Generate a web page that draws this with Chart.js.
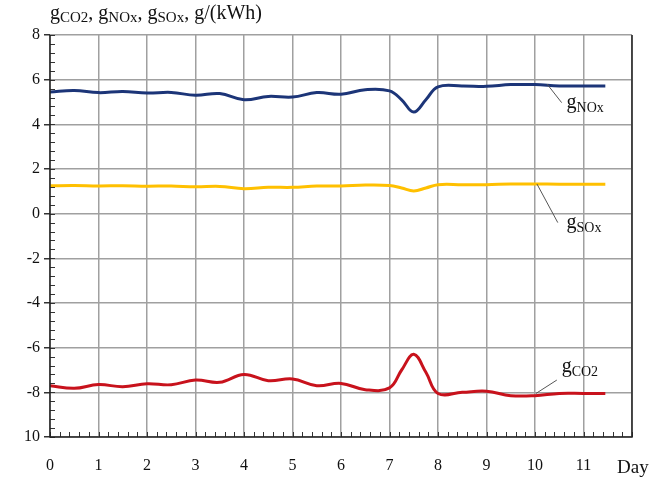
<!DOCTYPE html>
<html><head><meta charset="utf-8">
<script src="https://cdn.jsdelivr.net/npm/chart.js@4"></script>
<style>html,body{margin:0;padding:0;background:#fff}#wrap{width:659px;height:478px}</style>
</head><body><div id="wrap"><canvas id="c" width="659" height="478"></canvas></div>
<script>
const days = [0,0.5,1,1.5,2,2.5,3,3.5,4,4.5,5,5.5,6,6.5,7,7.25,7.5,7.75,8,8.5,9,9.5,10,10.5,11,11.45];
const gNOx = [5.45,5.52,5.42,5.47,5.4,5.43,5.3,5.38,5.1,5.25,5.22,5.42,5.35,5.55,5.5,5.1,4.55,5.1,5.68,5.72,5.7,5.78,5.78,5.72,5.72,5.72];
const gSOx = [1.25,1.26,1.24,1.25,1.23,1.24,1.2,1.22,1.12,1.18,1.18,1.24,1.24,1.28,1.26,1.15,1.02,1.15,1.3,1.3,1.3,1.33,1.33,1.32,1.32,1.32];
const gCO2 = [-7.7,-7.82,-7.65,-7.75,-7.62,-7.66,-7.45,-7.55,-7.2,-7.48,-7.4,-7.7,-7.6,-7.88,-7.8,-7.0,-6.3,-7.1,-8.05,-8.0,-7.95,-8.15,-8.15,-8.05,-8.05,-8.05];
const xTicks = [0,1,2,3,4,5,6,7,8,9,10,11];
const yTicks = [8,6,4,2,0,-2,-4,-6,-8,-10];
const yTickLabels = ['8','6','4','2','0','-2','-4','-6','-8','10'];

const SERIF = '"Liberation Serif", "DejaVu Serif", serif';
function pts(ys){return days.map((d,i)=>({x:d,y:ys[i]}));}

const decor = {
  id:'decor',
  afterDraw(chart){
    const ctx = chart.ctx, xs = chart.scales.x, ys = chart.scales.y, a = chart.chartArea;
    ctx.save();
    // minor ticks
    ctx.strokeStyle = '#333'; ctx.lineWidth = 1;
    ctx.beginPath();
    for(let i=0;i<=60;i++){const px=Math.round(xs.getPixelForValue(i*0.2))+0.5; ctx.moveTo(px,a.bottom); ctx.lineTo(px,a.bottom-5);}
    for(let i=0;i<=45;i++){const py=Math.round(ys.getPixelForValue(-10+i*0.4))+0.5; ctx.moveTo(a.left,py); ctx.lineTo(a.left+5,py);}
    ctx.stroke();
    // borders
    ctx.strokeStyle='#222'; ctx.lineWidth=1.5;
    ctx.beginPath();
    ctx.moveTo(a.left,a.top); ctx.lineTo(a.left,a.bottom); ctx.lineTo(a.right,a.bottom); ctx.lineTo(a.right,a.top);
    ctx.stroke();
    // leader lines
    ctx.strokeStyle='#555'; ctx.lineWidth=1;
    const L=(x1,y1,x2,y2)=>{ctx.beginPath();ctx.moveTo(xs.getPixelForValue(x1),ys.getPixelForValue(y1));ctx.lineTo(xs.getPixelForValue(x2),ys.getPixelForValue(y2));ctx.stroke();};
    L(10.25,5.8,10.55,4.97);
    L(10.04,1.33,10.47,-0.4);
    L(10.02,-8.05,10.45,-7.45);
    // labels
    ctx.fillStyle='#111'; ctx.textBaseline='alphabetic'; ctx.textAlign='left';
    const lab=(x,y,sub,big,small,dy)=>{
      ctx.font=big+'px '+SERIF; ctx.fillText('g',x,y);
      const w=ctx.measureText('g').width;
      ctx.font=small+'px '+SERIF; ctx.fillText(sub,x+w,y+dy);
      return x+w+ctx.measureText(sub).width;
    };
    const px=v=>xs.getPixelForValue(v), py=v=>ys.getPixelForValue(v);
    lab(px(10.65),py(4.75),'NOx',20,14,4);
    lab(px(10.65),py(-0.65),'SOx',20,14,4);
    lab(px(10.55),py(-7.1),'CO2',20,14,4);
    // title
    let x=50, y=19;
    x=lab(x,y,'CO2',20,15,3);
    ctx.font='20px '+SERIF; ctx.fillText(', ',x,y); x+=ctx.measureText(', ').width;
    x=lab(x,y,'NOx',20,15,3);
    ctx.font='20px '+SERIF; ctx.fillText(', ',x,y); x+=ctx.measureText(', ').width;
    x=lab(x,y,'SOx',20,15,3);
    ctx.font='20px '+SERIF; ctx.fillText(', g/(kWh)',x,y);
    // Day
    ctx.font='19px '+SERIF; ctx.fillText('Day',617,473);
    ctx.restore();
  }
};

new Chart(document.getElementById('c'),{
  type:'line',
  data:{datasets:[
    {label:'gNOx',data:pts(gNOx),borderColor:'#1c3578',borderWidth:3,pointRadius:0,tension:0.4,fill:false},
    {label:'gSOx',data:pts(gSOx),borderColor:'#ffc000',borderWidth:3,pointRadius:0,tension:0.4,fill:false},
    {label:'gCO2',data:pts(gCO2),borderColor:'#c8121c',borderWidth:3,pointRadius:0,tension:0.4,fill:false}
  ]},
  options:{
    responsive:false,animation:false,
    layout:{padding:{left:0,top:35,right:27,bottom:0}},
    plugins:{legend:{display:false},tooltip:{enabled:false}},
    scales:{
      x:{type:'linear',min:0,max:12,
        afterFit(s){s.height=41;},
        afterBuildTicks(s){s.ticks=xTicks.concat([12]).map(v=>({value:v}));},
        ticks:{padding:19,font:{family:SERIF,size:16},color:'#111',maxRotation:0,autoSkip:false,
          callback:(v)=>xTicks.includes(v)?String(v):''},
        grid:{color:'#a0a0a0',lineWidth:1.5,drawTicks:false},
        border:{display:false}
      },
      y:{type:'linear',min:-10,max:8,
        afterFit(s){s.width=50;},
        afterBuildTicks(s){s.ticks=yTicks.map(v=>({value:v}));},
        ticks:{padding:4,font:{family:SERIF,size:16},color:'#111',autoSkip:false,
          callback:(v)=>{const i=yTicks.indexOf(v);return i>=0?yTickLabels[i]:'';}},
        grid:{color:'#a0a0a0',lineWidth:1.5,tickLength:6,tickColor:'#333'},
        border:{display:false}
      }
    }
  },
  plugins:[decor]
});
</script></body></html>
